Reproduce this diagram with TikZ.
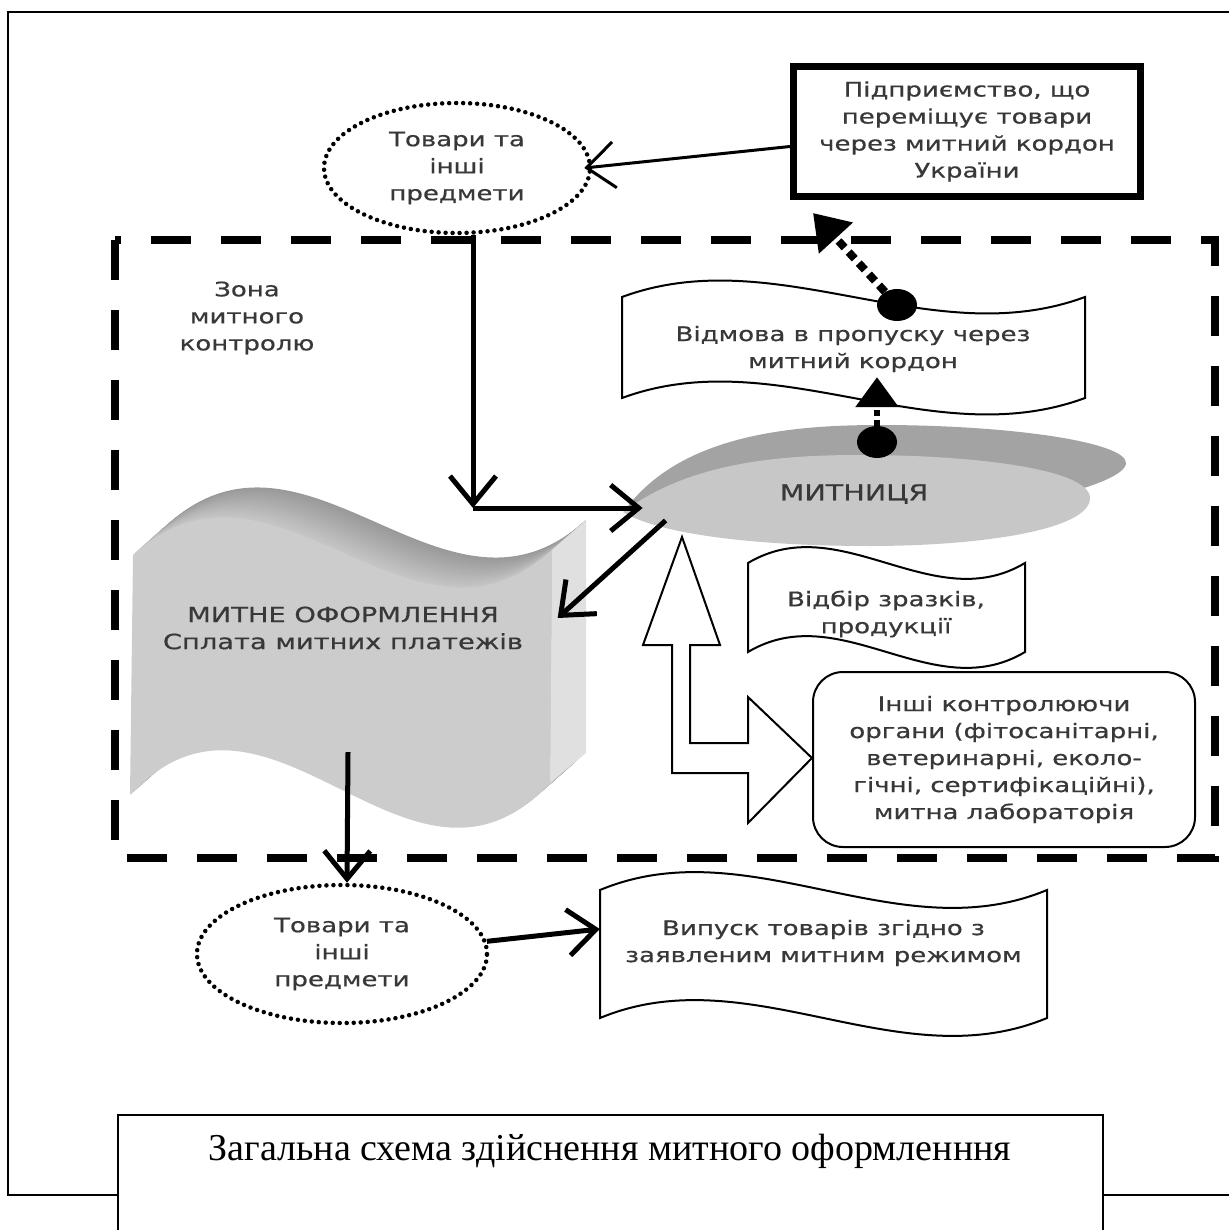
\documentclass[tikz,border=0pt]{standalone}
\usepackage{fontspec}
\setmainfont{Liberation Serif}
\newfontfamily\diafont[FakeStretch=1.3,FakeBold=0.6]{DejaVu Sans}
\usetikzlibrary{shapes.geometric,arrows.meta}

\begin{document}
\begin{tikzpicture}[x=1pt, y=-1pt,
  diatext/.style={font=\diafont\fontsize{20}{27}\selectfont, text=black!78, align=center, inner sep=0pt},
  frameline/.style={line width=2.5pt},
  zone/.style={line width=8pt, dash pattern=on 40pt off 30pt},
  goods/.style={diatext, ellipse, draw, line width=4.5pt, line cap=round, dash pattern=on 0pt off 7pt},
  wave/.style={line width=2pt, fill=white},
  flow/.style={line width=5pt, -{Straight Barb[length=28pt,width=46pt]}},
  flowthin/.style={flow, line width=3pt},
  refuse/.style={line width=8pt, dash pattern=on 9pt off 6pt, -{Triangle[length=34pt,width=44pt]}},
  refusesmall/.style={line width=6pt, dash pattern=on 6pt off 4pt, -{Triangle[length=30pt,width=42pt]}},
  blob/.style={ellipse, fill=black, inner sep=0pt, minimum width=40pt, minimum height=32pt},
]
  \useasboundingbox (0,0) rectangle (1229,1230);

  % Define the wavy frame: left, top, right, bottom, bend
  \def\waveframe#1#2#3#4#5{%
    \draw[wave] (#1,#2) .. controls ({#1+(#3-#1)/3},{#2-#5}) and ({#3-(#3-#1)/3},{#2+#5}) .. (#3,#2)
      -- (#3,#4) .. controls ({#3-(#3-#1)/3},{#4+#5}) and ({#1+(#3-#1)/3},{#4-#5}) .. (#1,#4) -- cycle;}

  % Page frame and caption box
  \draw[frameline] (1229,12) -- (8,12) -- (8,1195) -- (118,1195);
  \draw[frameline] (1103,1195) -- (1229,1195);
  \draw[frameline] (118,1230) -- (118,1115) -- (1103,1115) -- (1103,1230);
  \node[font=\fontsize{38}{44}\selectfont] (caption) at (610,1151) {Загальна схема здійснення митного оформленння};

  % Zone of customs control
  \draw[zone] (115,240) rectangle (1215,858);
  \node[diatext] (zonelabel) at (247,318) {Зона\\митного\\контролю};

  % Customs disc
  \fill[black!36] (625,510) .. controls (680,435) and (790,425) .. (880,425)
    .. controls (1010,425) and (1126,442) .. (1126,463)
    .. controls (1126,485) and (1000,515) .. (880,518)
    .. controls (760,520) and (660,520) .. cycle;
  \fill[black!22] (623,512) .. controls (690,462) and (780,455) .. (860,455)
    .. controls (980,455) and (1090,470) .. (1090,498)
    .. controls (1090,530) and (980,546) .. (870,546)
    .. controls (760,546) and (660,535) .. cycle;
  \node[diatext, font=\diafont\fontsize{22}{27}\selectfont, ellipse, minimum width=462pt, minimum height=91pt] (customs) at (854,494) {МИТНИЦЯ};

  % Customs clearance flag (extruded)
  \def\flagpath{(133,555) .. controls (273,427) and (412,678) .. (552,550) -- (550,783)
    .. controls (410,933) and (270,645) .. (130,795) -- cycle}
  \foreach \k in {30,...,1} {
    \pgfmathsetmacro\tone{22+0.6*\k}
    \fill[black!\tone, shift={(1.13*\k,-\k)}] \flagpath;
  }
  \fill[black!12] (552,550) -- (586,520) -- (586,753) -- (550,783) -- cycle;
  \fill[black!20] \flagpath;
  \node[diatext, font=\diafont\fontsize{21}{27}\selectfont, minimum width=419pt, minimum height=228pt] (flag) at (343,628) {МИТНЕ ОФОРМЛЕННЯ\\Сплата митних платежів};

  % Goods before and after
  \node[goods, minimum width=266pt, minimum height=130pt] (goodsIn) at (457,168) {Товари та\\інші\\предмети};
  \node[goods, minimum width=290pt, minimum height=138pt] (goodsOut) at (342,954) {Товари та\\інші\\предмети};

  % Enterprise box
  \node[diatext, draw, line width=7pt, minimum width=347pt, minimum height=130pt] (firm) at (967,131.5) {Підприємство, що\\переміщує товари\\через митний кордон\\України};

  % Wavy boxes
  \waveframe{622}{297}{1085}{398}{57}
  \node[diatext, minimum width=463pt, minimum height=100pt] (refusal) at (853,349) {Відмова в пропуску через\\митний кордон};
  \waveframe{748}{563}{1025}{652}{55}
  \node[diatext] (samples) at (886,614) {Відбір зразків,\\продукції};
  \waveframe{600}{890}{1047}{1018}{62}
  \node[diatext, minimum width=447pt] (release) at (823.5,943) {Випуск товарів згідно з\\заявленим митним режимом};

  % Other control bodies
  \node[diatext, draw, line width=2pt, rounded corners=30pt, fill=white, minimum width=382pt, minimum height=175pt] (control) at (1004,759.5) {Інші контролюючи\\органи (фітосанітарні,\\ветеринарні, еколо-\\гічні, сертифікаційні),\\митна лабораторія};

  % Hollow double arrow
  \draw[line width=2pt, fill=white] (682,537) -- (720,645) -- (690,645) -- (690,743) -- (748,743)
    -- (748,697) -- (812,758) -- (748,823) -- (748,773) -- (672,773) -- (672,645) -- (643,645) -- cycle;

  % Flow of goods
  \coordinate (turn) at (473,508);
  \draw[flowthin] ([yshift=-15pt]firm.west) -- ([xshift=-8pt]goodsIn.east);
  \draw[flow] (goodsIn.south -| turn) -- (turn);
  \draw[flow] (turn) -- (turn -| customs.185);
  \draw[flow] (customs.188) -- ([shift={(5,-10)}]flag.east);
  \draw[flow] ([xshift=5pt,yshift=-10pt]flag.south) -- ([xshift=5pt]goodsOut.north);
  \draw[flow] (goodsOut.5) -- ([yshift=14pt]release.west);

  % Refusal links
  \node[blob] (rdot) at (897,305) {};
  \node[blob] (cdot) at (877,442) {};
  \draw[refuse] (rdot) -- ([shift={(23,13)}]firm.south west);
  \draw[refusesmall] (cdot) -- ([shift={(24,-22)}]refusal.south);

\end{tikzpicture}
\end{document}
